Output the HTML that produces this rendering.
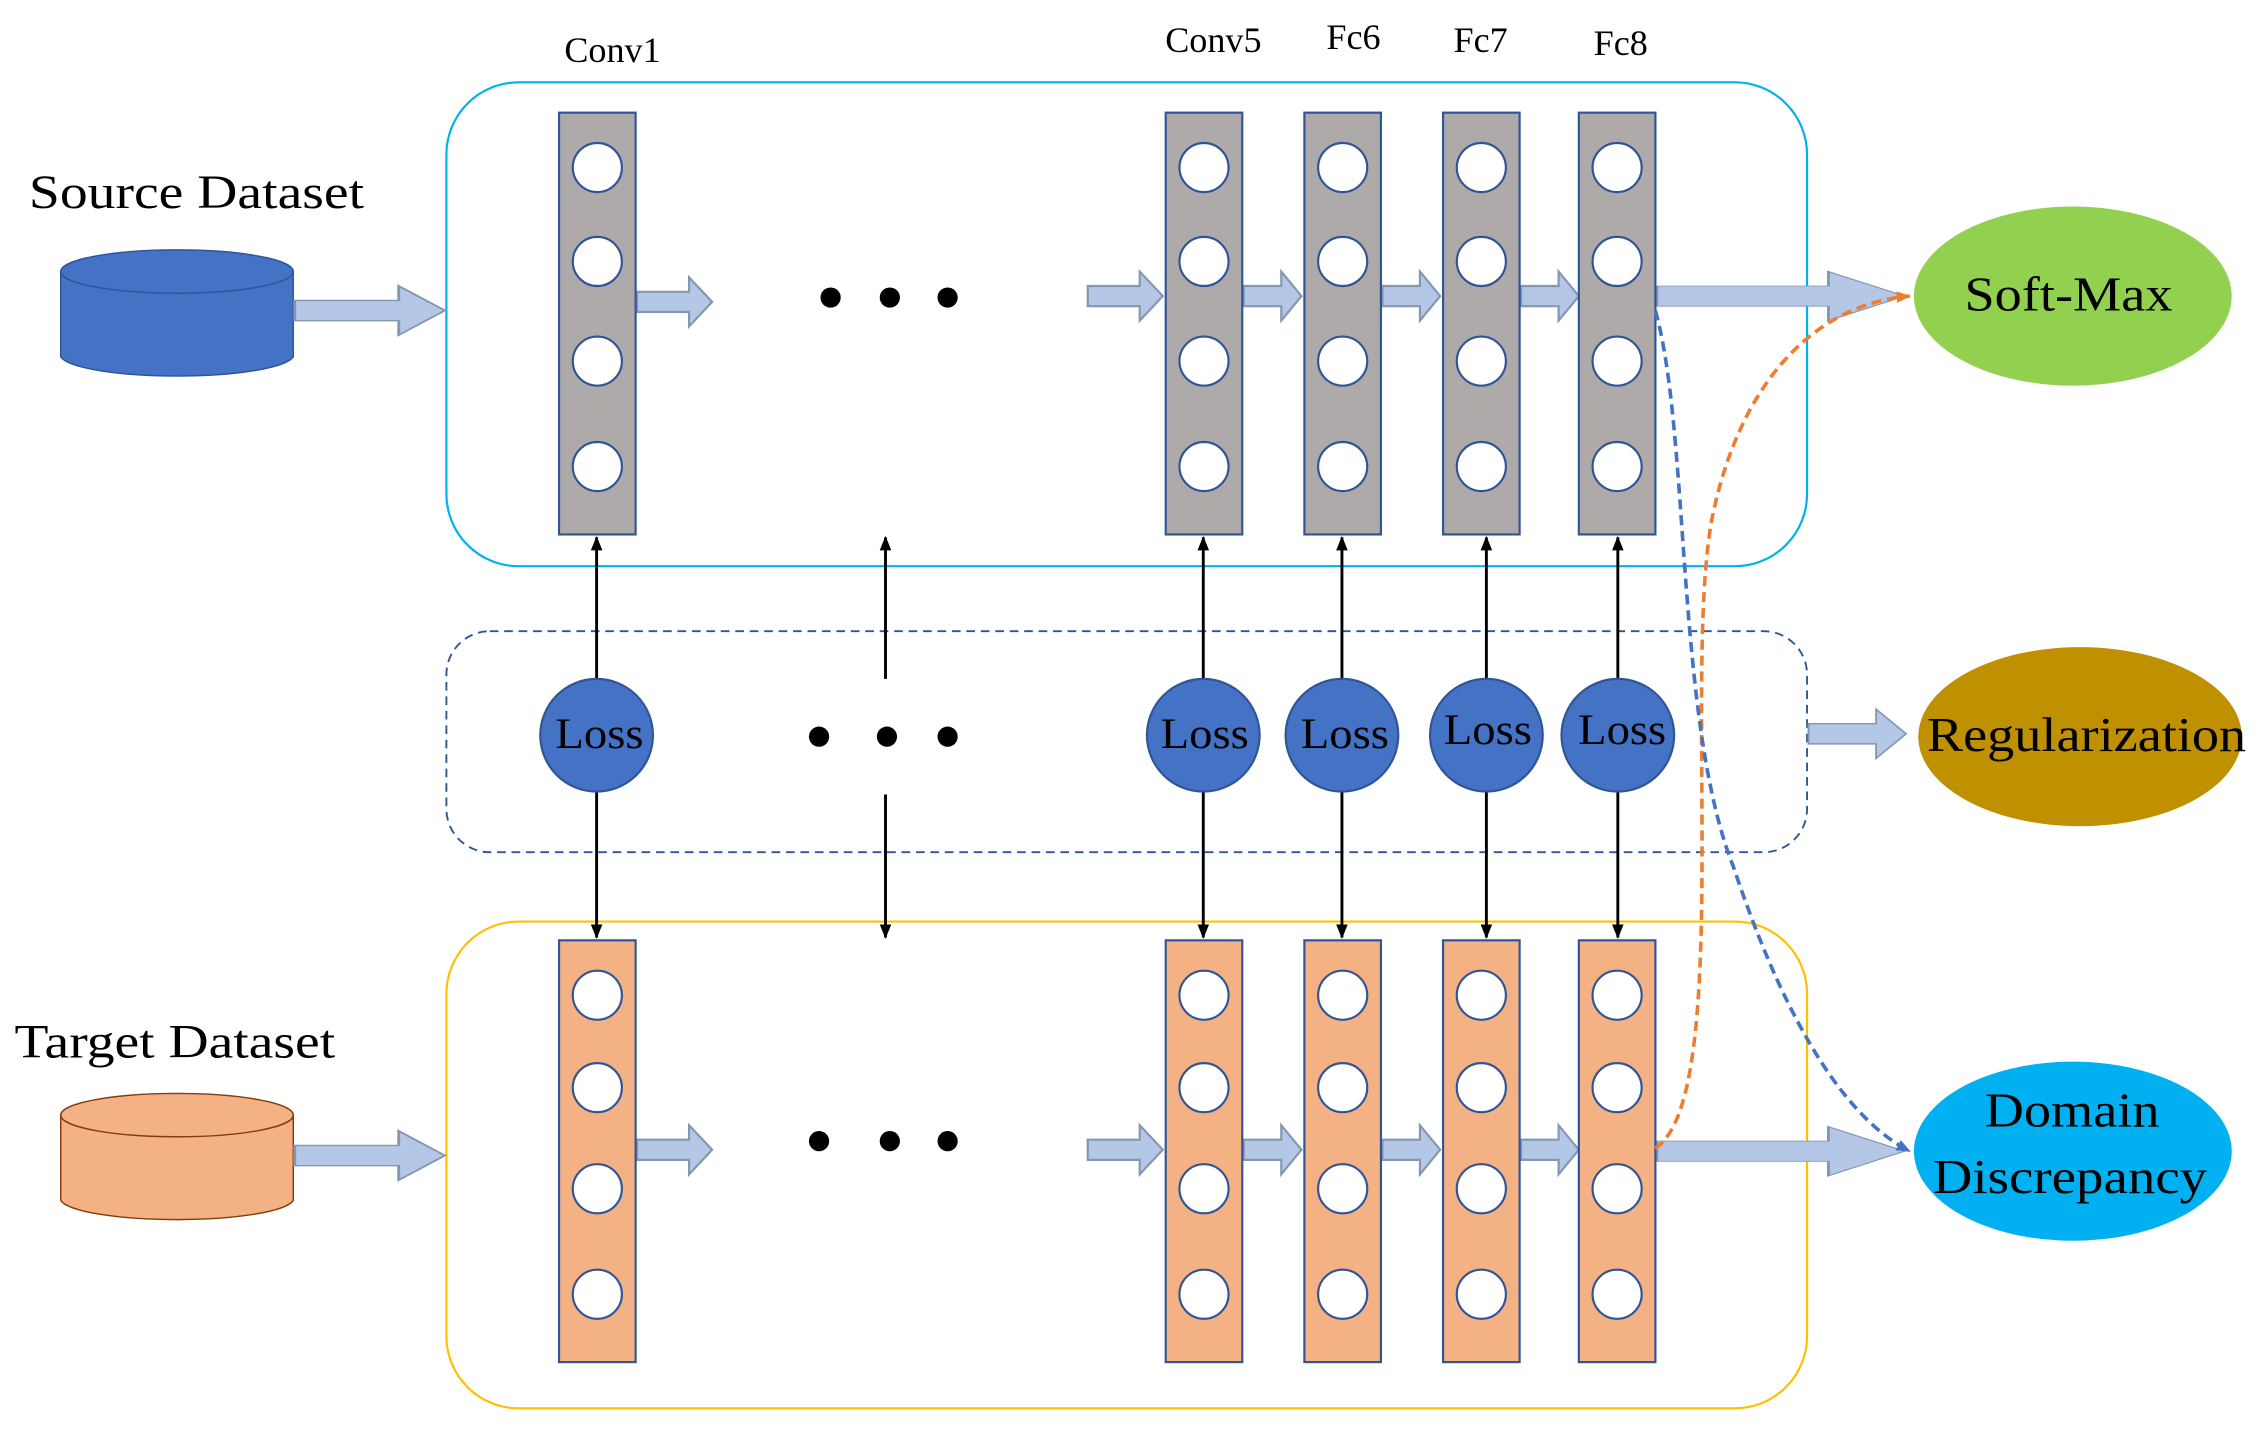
<!DOCTYPE html>
<html><head><meta charset="utf-8"><style>html,body{margin:0;padding:0;background:#fff}svg{display:block}</style></head>
<body>
<svg width="2265" height="1430" viewBox="0 0 1568 990" xmlns="http://www.w3.org/2000/svg" font-family="Liberation Serif, serif">
<defs>
<marker id="ah" markerWidth="10" markerHeight="10" refX="9" refY="5" orient="auto" markerUnits="userSpaceOnUse"><path d="M0,1 L10,5 L0,9 Z" fill="#000"/></marker>
<marker id="ao" markerWidth="10" markerHeight="10" refX="9" refY="5" orient="auto" markerUnits="userSpaceOnUse"><path d="M0,1 L10,5 L0,9 Z" fill="#ed7d31"/></marker>
<marker id="ab" markerWidth="10" markerHeight="10" refX="9" refY="5" orient="auto" markerUnits="userSpaceOnUse"><path d="M0,1 L10,5 L0,9 Z" fill="#4472c4"/></marker>
<g id="ba"><path d="M0,-7 L36,-7 L36,-17 L52,0 L36,17 L36,7 L0,7 Z" fill="#b4c7e7" stroke="#8497b0" stroke-width="1.5"/></g>
<g id="bs"><path d="M0,-7 L26,-7 L26,-17 L40,0 L26,17 L26,7 L0,7 Z" fill="#b4c7e7" stroke="#8497b0" stroke-width="1.5"/></g>
</defs>
<rect x="309" y="57" width="942" height="335" rx="50" fill="none" stroke="#00b0f0" stroke-width="1.5"/>
<rect x="309" y="437" width="942" height="153" rx="30" fill="none" stroke="#2f5597" stroke-width="1.3" stroke-dasharray="6,4"/>
<rect x="309" y="638" width="942" height="337" rx="50" fill="none" stroke="#ffc000" stroke-width="1.5"/>
<g font-size="25" text-anchor="middle">
<text x="424" y="43">Conv1</text><text x="840" y="36">Conv5</text><text x="937" y="34">Fc6</text><text x="1025" y="36">Fc7</text><text x="1122" y="38">Fc8</text>
</g>
<text x="20" y="144" font-size="33" textLength="232" lengthAdjust="spacingAndGlyphs">Source Dataset</text>
<text x="10" y="732" font-size="33" textLength="222" lengthAdjust="spacingAndGlyphs">Target Dataset</text>
<path d="M42,188 L42,247 A81,15 0 0 0 203,247 L203,188" fill="#4472c4" stroke="#2f5597"/>
<ellipse cx="122.5" cy="188" rx="80.5" ry="15" fill="#4472c4" stroke="#2f5597"/>
<path d="M42,772 L42,831 A81,15 0 0 0 203,831 L203,772" fill="#f4b183" stroke="#843c0c" stroke-width="1"/>
<ellipse cx="122.5" cy="772" rx="80.5" ry="15" fill="#f4b183" stroke="#843c0c" stroke-width="1"/>
<g transform="translate(204,215) scale(2,1)"><path d="M0,-7 L36,-7 L36,-17 L52,0 L36,17 L36,7 L0,7 Z" fill="#b4c7e7" stroke="#8497b0" stroke-width="1"/></g>
<g transform="translate(204,800) scale(2,1)"><path d="M0,-7 L36,-7 L36,-17 L52,0 L36,17 L36,7 L0,7 Z" fill="#b4c7e7" stroke="#8497b0" stroke-width="1"/></g>
<use href="#ba" transform="translate(441,209)"/><use href="#ba" transform="translate(753,205)"/><use href="#bs" transform="translate(861,205)"/><use href="#bs" transform="translate(957,205)"/><use href="#bs" transform="translate(1053,205)"/>
<use href="#ba" transform="translate(441,796)"/><use href="#ba" transform="translate(753,796)"/><use href="#bs" transform="translate(861,796)"/><use href="#bs" transform="translate(957,796)"/><use href="#bs" transform="translate(1053,796)"/>
<g transform="translate(1147,205) scale(3.3,1)"><path d="M0,-7 L36,-7 L36,-17 L52,0 L36,17 L36,7 L0,7 Z" fill="#b4c7e7" stroke="#8497b0" stroke-width="0.6"/></g>
<g transform="translate(1147,797) scale(3.3,1)"><path d="M0,-7 L36,-7 L36,-17 L52,0 L36,17 L36,7 L0,7 Z" fill="#b4c7e7" stroke="#8497b0" stroke-width="0.6"/></g>
<g transform="translate(1252,508) scale(1.3,1)"><path d="M0,-7 L36,-7 L36,-17 L52,0 L36,17 L36,7 L0,7 Z" fill="#b4c7e7" stroke="#8497b0" stroke-width="1"/></g>
<g stroke="#2f5597" stroke-width="1.5">
<g fill="#aeaaaa"><rect x="387" y="78" width="53" height="292"/><rect x="807" y="78" width="53" height="292"/><rect x="903" y="78" width="53" height="292"/><rect x="999" y="78" width="53" height="292"/><rect x="1093" y="78" width="53" height="292"/></g>
<g fill="#f4b183"><rect x="387" y="651" width="53" height="292"/><rect x="807" y="651" width="53" height="292"/><rect x="903" y="651" width="53" height="292"/><rect x="999" y="651" width="53" height="292"/><rect x="1093" y="651" width="53" height="292"/></g>
<g fill="#fff">
<circle cx="413.5" cy="116" r="17"/><circle cx="413.5" cy="181" r="17"/><circle cx="413.5" cy="250" r="17"/><circle cx="413.5" cy="323" r="17"/>
<circle cx="833.5" cy="116" r="17"/><circle cx="833.5" cy="181" r="17"/><circle cx="833.5" cy="250" r="17"/><circle cx="833.5" cy="323" r="17"/>
<circle cx="929.5" cy="116" r="17"/><circle cx="929.5" cy="181" r="17"/><circle cx="929.5" cy="250" r="17"/><circle cx="929.5" cy="323" r="17"/>
<circle cx="1025.5" cy="116" r="17"/><circle cx="1025.5" cy="181" r="17"/><circle cx="1025.5" cy="250" r="17"/><circle cx="1025.5" cy="323" r="17"/>
<circle cx="1119.5" cy="116" r="17"/><circle cx="1119.5" cy="181" r="17"/><circle cx="1119.5" cy="250" r="17"/><circle cx="1119.5" cy="323" r="17"/>
<circle cx="413.5" cy="689" r="17"/><circle cx="413.5" cy="753" r="17"/><circle cx="413.5" cy="823" r="17"/><circle cx="413.5" cy="896" r="17"/>
<circle cx="833.5" cy="689" r="17"/><circle cx="833.5" cy="753" r="17"/><circle cx="833.5" cy="823" r="17"/><circle cx="833.5" cy="896" r="17"/>
<circle cx="929.5" cy="689" r="17"/><circle cx="929.5" cy="753" r="17"/><circle cx="929.5" cy="823" r="17"/><circle cx="929.5" cy="896" r="17"/>
<circle cx="1025.5" cy="689" r="17"/><circle cx="1025.5" cy="753" r="17"/><circle cx="1025.5" cy="823" r="17"/><circle cx="1025.5" cy="896" r="17"/>
<circle cx="1119.5" cy="689" r="17"/><circle cx="1119.5" cy="753" r="17"/><circle cx="1119.5" cy="823" r="17"/><circle cx="1119.5" cy="896" r="17"/>
</g></g>
<g fill="#000">
<circle cx="575" cy="206" r="7"/><circle cx="616" cy="206" r="7"/><circle cx="656" cy="206" r="7"/>
<circle cx="567" cy="510" r="7"/><circle cx="614" cy="510" r="7"/><circle cx="656" cy="510" r="7"/>
<circle cx="567" cy="790" r="7"/><circle cx="616" cy="790" r="7"/><circle cx="656" cy="790" r="7"/>
</g>
<g stroke="#000" stroke-width="2">
<line x1="413" y1="470" x2="413" y2="372" marker-end="url(#ah)"/><line x1="413" y1="548" x2="413" y2="649" marker-end="url(#ah)"/>
<line x1="613" y1="470" x2="613" y2="372" marker-end="url(#ah)"/><line x1="613" y1="550" x2="613" y2="649" marker-end="url(#ah)"/>
<line x1="833" y1="470" x2="833" y2="372" marker-end="url(#ah)"/><line x1="833" y1="548" x2="833" y2="649" marker-end="url(#ah)"/>
<line x1="929" y1="470" x2="929" y2="372" marker-end="url(#ah)"/><line x1="929" y1="548" x2="929" y2="649" marker-end="url(#ah)"/>
<line x1="1029" y1="470" x2="1029" y2="372" marker-end="url(#ah)"/><line x1="1029" y1="548" x2="1029" y2="649" marker-end="url(#ah)"/>
<line x1="1120" y1="470" x2="1120" y2="372" marker-end="url(#ah)"/><line x1="1120" y1="548" x2="1120" y2="649" marker-end="url(#ah)"/>
</g>
<g fill="#4472c4" stroke="#2f5597" stroke-width="1.5">
<circle cx="413" cy="509" r="39"/><circle cx="833" cy="509" r="39"/><circle cx="929" cy="509" r="39"/><circle cx="1029" cy="509" r="39"/><circle cx="1120" cy="509" r="39"/>
</g>
<g font-size="30" text-anchor="middle" fill="#000">
<text x="415" y="518" textLength="61" lengthAdjust="spacingAndGlyphs">Loss</text><text x="834" y="518" textLength="61" lengthAdjust="spacingAndGlyphs">Loss</text><text x="931" y="518" textLength="61" lengthAdjust="spacingAndGlyphs">Loss</text><text x="1030" y="515" textLength="61" lengthAdjust="spacingAndGlyphs">Loss</text><text x="1123" y="515" textLength="61" lengthAdjust="spacingAndGlyphs">Loss</text>
</g>
<ellipse cx="1435" cy="205" rx="110" ry="62" fill="#92d050"/>
<ellipse cx="1440" cy="510" rx="112" ry="62" fill="#bf9000"/>
<ellipse cx="1435" cy="797" rx="110" ry="62" fill="#00b0f0"/>
<g font-size="34" fill="#000">
<text x="1360" y="215" textLength="144" lengthAdjust="spacingAndGlyphs">Soft-Max</text>
<text x="1334" y="520" textLength="221" lengthAdjust="spacingAndGlyphs">Regularization</text>
<text x="1374" y="780" textLength="121" lengthAdjust="spacingAndGlyphs">Domain</text><text x="1338" y="826" textLength="190" lengthAdjust="spacingAndGlyphs">Discrepancy</text>
</g>
<path d="M1146,795 C1200,760 1165,470 1185,360 C1205,260 1260,210 1322,205" fill="none" stroke="#ed7d31" stroke-width="2.5" stroke-dasharray="7,4" marker-end="url(#ao)"/>
<path d="M1146,215 C1170,300 1160,500 1200,600 C1230,690 1270,770 1322,797" fill="none" stroke="#4472c4" stroke-width="2.5" stroke-dasharray="7,4" marker-end="url(#ab)"/>
</svg>
</body></html>
